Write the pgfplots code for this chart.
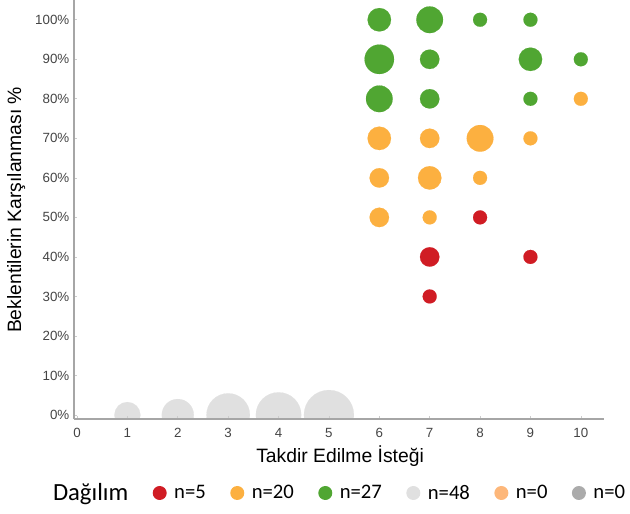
\documentclass[border=0pt]{standalone}
\usepackage{pgfplots}
\usepackage{pgfplotstable}
\pgfplotsset{compat=1.18}
\usepackage{fontspec}
\setmainfont{Liberation Sans}
\newfontfamily\legfont{Carlito}
\definecolor{cred}{HTML}{D01C24}
\definecolor{corange}{HTML}{FCB040}
\definecolor{cgreen}{HTML}{50A632}
\definecolor{cgray}{HTML}{E0E0E0}
\definecolor{clorange}{HTML}{FDB77A}
\definecolor{cdgray}{HTML}{ABABAB}
\definecolor{ctick}{HTML}{444444}
\definecolor{caxis}{HTML}{A6A6A6}

\pgfplotsset{bubble/.style={scatter, only marks, mark=*,
  scatter/use mapped color={draw=#1, fill=#1, line width=0.1pt},
  visualization depends on={0.75*\thisrow{r} \as \rr},
  scatter/@pre marker code/.append style={/tikz/mark size=\rr},
  forget plot}}

\pgfplotstableread{
x y r
6 100 11.7
7 100 13.3
8 100 7
9 100 7
6 90 14.7
7 90 9.7
9 90 11.7
10 90 7
6 80 13.3
7 80 9.7
9 80 7
}\greendata
\pgfplotstableread{
x y r
10 80 7
6 70 11.7
7 70 9.7
8 70 13.3
9 70 7
6 60 9.7
7 60 11.7
8 60 7
6 50 9.7
7 50 7
}\orangedata
\pgfplotstableread{
x y r
8 50 7
7 40 9.7
9 40 7
7 30 7
}\reddata
\pgfplotstableread{
x y r
1 0 13
2 0 16
3 0 21.7
4 0 22.7
5 0 25
}\graydata

\begin{document}
\begin{tikzpicture}
\begin{axis}[
  at={(0,0)}, anchor=south west,
  scale only axis,
  width=397.5pt, height=314.25pt,
  xmin=-0.06, xmax=10.46,
  ymin=-1, ymax=105,
  clip marker paths=true,
  axis on top,
  axis x line*=bottom, axis y line*=left,
  axis line style={draw=caxis, line width=1.5pt},
  xtick={0,1,...,10},
  ytick={0,10,...,100},
  yticklabel={\pgfmathprintnumber{\tick}\%},
  /pgf/number format/assume math mode=true,
  tick label style={font=\fontsize{10}{12}\selectfont, text=ctick},
  xticklabel style={yshift=-3.5pt},
  major tick length=2pt,
  tick style={draw=gray!40, line width=0.5pt},
  xlabel={Takdir Edilme İsteği},
  ylabel={Beklentilerin Karşılanması \%},
  every axis x label/.style={at={(axis description cs:0.502,-0.089)}, anchor=center, font=\fontsize{14.5}{17}\selectfont},
  every axis y label/.style={at={(axis description cs:-0.109,0.499)}, anchor=center, rotate=90, font=\fontsize{14.5}{17}\selectfont},
  legend columns=-1,
  legend style={draw=none, fill=none, inner sep=0pt, outer sep=0pt,
    at={(axis description cs:-0.0396,-0.1766)}, anchor=west,
    nodes={inner sep=0pt},
    font=\legfont\fontsize{15.5}{18}\selectfont,
    /tikz/every even column/.append style={column sep=18.3pt}},
  legend image code/.code={\fill[#1, draw=none] (0pt,0pt) circle (5.25pt); \path[draw=none, fill=none] (-5.25pt,0pt) -- (10.9pt,0pt);},
]
\addplot[bubble=cgray] table {\graydata};
\addplot[bubble=cgreen] table {\greendata};
\addplot[bubble=corange] table {\orangedata};
\addplot[bubble=cred] table {\reddata};
\addlegendimage{empty legend}
\addlegendentry{\fontsize{18.5}{20}\selectfont Dağılım}
\addlegendimage{fill=cred}
\addlegendentry{n=5}
\addlegendimage{fill=corange}
\addlegendentry{n=20}
\addlegendimage{fill=cgreen}
\addlegendentry{n=27}
\addlegendimage{fill=cgray}
\addlegendentry{n=48}
\addlegendimage{fill=clorange}
\addlegendentry{n=0}
\addlegendimage{fill=cdgray}
\addlegendentry{n=0}
\end{axis}
\pgfresetboundingbox
\path[use as bounding box] (-55.5pt,-70.5pt) rectangle (417pt,314.25pt);
\end{tikzpicture}
\end{document}
